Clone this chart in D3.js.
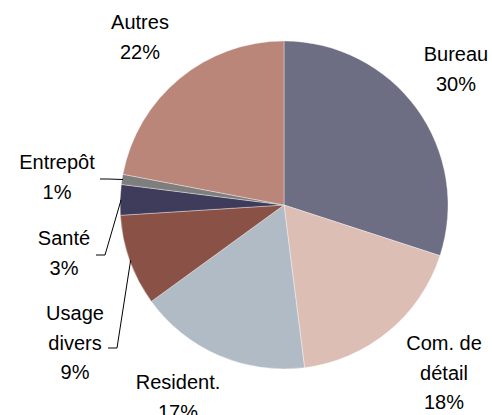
<!DOCTYPE html>
<html>
<head>
<meta charset="utf-8">
<script src="https://cdn.jsdelivr.net/npm/d3@7"></script>
<style>
  html, body { margin: 0; padding: 0; background: #fff; }
  svg { display: block; }
  text { font-family: "Liberation Sans", Arial, sans-serif; fill: #000; }
</style>
</head>
<body>
<svg id="chart" width="492" height="415"></svg>
<script>
// Répartition par type d'usage (%)
const categories = ["Bureau", "Com. de détail", "Resident.", "Usage divers", "Santé", "Entrepôt", "Autres"];
const values = [30, 18, 17, 9, 3, 1, 22];
const labelLines = [["Bureau"], ["Com. de", "détail"], ["Resident."], ["Usage", "divers"], ["Santé"], ["Entrepôt"], ["Autres"]];
const colors = ["#6d6d83", "#dcbeb5", "#b1bbc5", "#8a5247", "#3f3b5b", "#7e7e7e", "#b98679"];

// Label placement: centre x and first baseline y, plus optional leader elbow
const labelLayout = {
  "Bureau":         { x: 456, y: 61 },
  "Com. de détail": { x: 444, y: 350 },
  "Resident.":      { x: 178, y: 389 },
  "Usage divers":   { x: 75,  y: 320, leader: { from: [108, 348], elbow: [117, 348] } },
  "Santé":          { x: 64,  y: 245, leader: { from: [96, 255], elbow: [105, 255] } },
  "Entrepôt":       { x: 57,  y: 169, leader: { from: [100, 179], elbow: [108, 179] } },
  "Autres":         { x: 140, y: 29 }
};

const cx = 284, cy = 205, radius = 164, lineGap = 29.5;

const svg = d3.select("#chart");
const g = svg.append("g").attr("transform", `translate(${cx},${cy})`);

const data = categories.map((c, i) => ({ name: c, value: values[i], lines: labelLines[i], color: colors[i] }));

const pie = d3.pie().sort(null).value(d => d.value).startAngle(0).endAngle(2 * Math.PI);
const arcs = pie(data);
const arc = d3.arc().innerRadius(0).outerRadius(radius);

g.selectAll("path.slice")
  .data(arcs)
  .join("path")
  .attr("class", "slice")
  .attr("d", arc)
  .attr("fill", d => d.data.color)
  .attr("stroke", "#ffffff")
  .attr("stroke-opacity", 0.6)
  .attr("stroke-width", 0.6);

// Leader lines for the small slices, ending on the slice's outer edge
const edgeArc = d3.arc().innerRadius(radius - 2).outerRadius(radius - 2);
arcs.forEach(a => {
  const lay = labelLayout[a.data.name];
  if (!lay.leader) return;
  const mid = (a.startAngle + a.endAngle) / 2;
  const ex = cx + (radius - 1) * Math.sin(mid);
  const ey = cy - (radius - 1) * Math.cos(mid);
  svg.append("polyline")
    .attr("points", [lay.leader.from, lay.leader.elbow, [ex, ey]].map(p => p.join(",")).join(" "))
    .attr("fill", "none")
    .attr("stroke", "#000")
    .attr("stroke-width", 1);
});

// Category labels with percentage on the last line
arcs.forEach(a => {
  const lay = labelLayout[a.data.name];
  const lines = a.data.lines.concat([d3.format("d")(a.data.value) + "%"]);
  const t = svg.append("text")
    .attr("text-anchor", "middle")
    .attr("font-size", 20);
  lines.forEach((ln, i) => {
    t.append("tspan")
      .attr("x", lay.x)
      .attr("y", lay.y + i * lineGap)
      .text(ln);
  });
});
</script>
</body>
</html>
